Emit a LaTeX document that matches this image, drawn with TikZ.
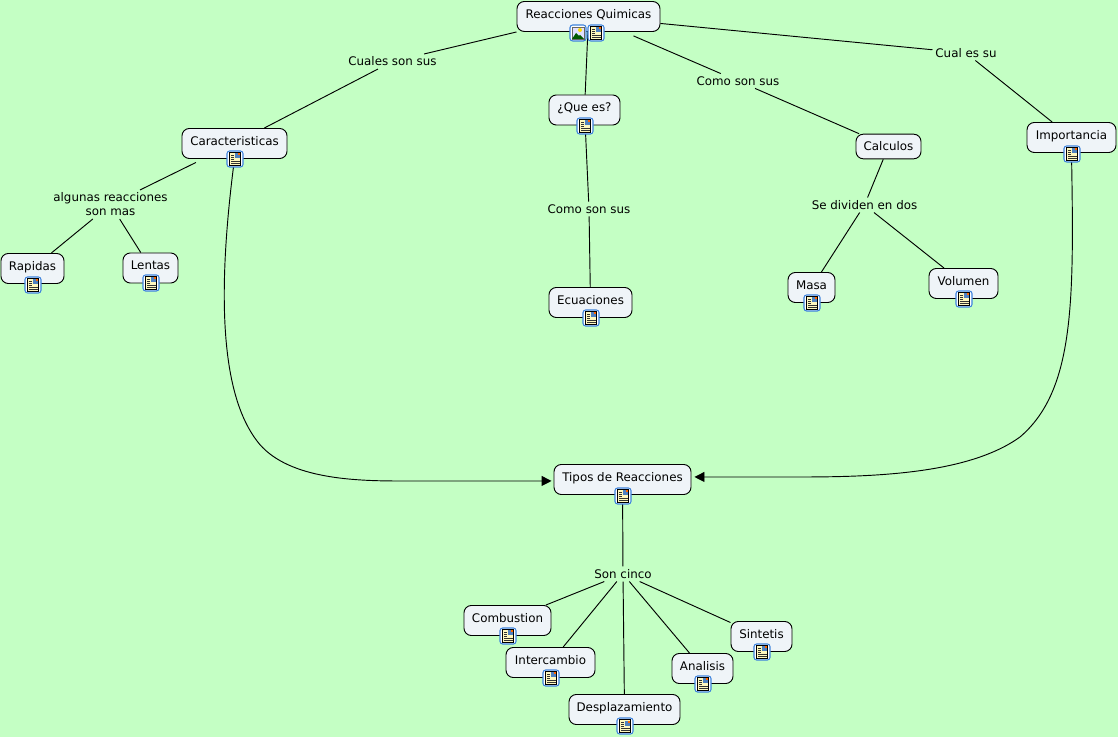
\documentclass[tikz,border=0pt]{standalone}
\usepackage{fontspec}
\setmainfont{DejaVu Sans}
\usetikzlibrary{arrows.meta}
\definecolor{mapbg}{RGB}{196,255,196}
\definecolor{boxfill}{RGB}{239,244,248}
\definecolor{iconblue}{RGB}{60,130,220}
\definecolor{iconpage}{RGB}{255,248,190}
\tikzset{
  concept/.style={draw=black, line width=0.7pt, rounded corners=5.5pt, fill=boxfill, font=\fontsize{8.9}{10}\selectfont, inner xsep=0pt, inner ysep=0pt, text height=12.5pt, text depth=10pt},
  link/.style={font=\fontsize{8.9}{10.5}\selectfont, inner sep=2pt, align=center},
  line/.style={draw=black, line width=0.7pt},
  curved/.style={line, -{Triangle[length=7.5pt, width=7.5pt]}},
  docicon/.pic={
    \draw[iconblue, fill=white, line width=0.8pt, rounded corners=2pt] (-8,-8) rectangle (8,8);
    \draw[black, fill=iconpage, line width=0.6pt] (-5.5,-6.5) rectangle (5.5,6.5);
    \fill[iconblue!70!gray] (0,-5.5) rectangle (4.5,-0.5);
    \fill[orange!80!red] (2.5,-5.5) rectangle (4.5,-3.5);
    \foreach \yy in {-4,-2,0} \draw[black!80, line width=0.4pt] (-4,\yy) -- (-1,\yy);
    \foreach \yy in {2,4} \draw[black!80, line width=0.4pt] (-4,\yy) -- (4.5,\yy);
  },
  imgicon/.pic={
    \draw[iconblue, fill=white, line width=0.8pt, rounded corners=2pt] (-8,-8) rectangle (8,8);
    \draw[black!60, fill=blue!12, line width=0.5pt] (-6,-6) rectangle (6,6);
    \fill[yellow!80!orange] (2,-3) circle (2);
    \fill[green!35!black] (-6,6) -- (-2,0) -- (1,3) -- (2,2) -- (6,6) -- cycle;
  }
}
\begin{document}
\begin{tikzpicture}[x=0.75pt, y=-0.75pt]
\useasboundingbox[fill=mapbg] (0,0) rectangle (1118,737);

\node[concept, minimum width=107.25pt] (reacciones) at (588.5,16.5) {Reacciones Quimicas};
\node[concept, minimum width=53.25pt] (quees) at (584.5,110) {¿Que es?};
\node[concept, minimum width=78.75pt] (caract) at (234.5,143.5) {Caracteristicas};
\node[concept, minimum width=48.75pt, text depth=6.5pt, text height=12pt] (calculos) at (888.5,146.5) {Calculos};
\node[concept, minimum width=66.75pt] (importancia) at (1071.5,137.5) {Importancia};
\node[concept, minimum width=47.25pt] (rapidas) at (32.5,268.5) {Rapidas};
\node[concept, minimum width=41.25pt] (lentas) at (150.5,268) {Lentas};
\node[concept, minimum width=62.25pt] (ecuaciones) at (590.5,302.5) {Ecuaciones};
\node[concept, minimum width=35.25pt] (masa) at (811.5,287.5) {Masa};
\node[concept, minimum width=51.75pt] (volumen) at (963.5,283.5) {Volumen};
\node[concept, minimum width=102.75pt] (tipos) at (622.5,479.5) {Tipos de Reacciones};
\node[concept, minimum width=65.25pt] (combustion) at (507.5,620.5) {Combustion};
\node[concept, minimum width=66.75pt] (intercambio) at (550.5,662.5) {Intercambio};
\node[concept, minimum width=83.25pt] (desplaz) at (624.5,709.5) {Desplazamiento};
\node[concept, minimum width=45.75pt] (analisis) at (702.5,668.5) {Analisis};
\node[concept, minimum width=45.75pt] (sintetis) at (761.5,636.5) {Sintetis};

\node[link] (cuales) at (392.5,61.5) {Cuales son sus};
\node[link] (comoa) at (738,81) {Como son sus};
\node[link] (cual) at (966,53) {Cual es su};
\node[link] (comob) at (589,209) {Como son sus};
\node[link] (dividen) at (864.5,205) {Se dividen en dos};
\node[link] (algunas) at (110.5,204.5) {algunas reacciones\\son mas};
\node[link] (cinco) at (623,574) {Son cinco};

\draw[line] (reacciones.south west) -- (cuales);
\draw[line] (cuales) -- (caract);
\draw[line] (reacciones) -- (quees);
\draw[line, shorten <=7.5pt] (reacciones) -- (comoa);
\draw[line] (comoa) -- (calculos);
\draw[line] (reacciones) -- (cual);
\draw[line] (cual) -- (importancia);
\draw[line] (quees) -- (comob);
\draw[line] (comob) -- (ecuaciones);
\draw[line] (calculos) -- (dividen);
\draw[line] (dividen) -- (masa);
\draw[line] (dividen) -- (volumen);
\draw[line, shorten <=6pt] (caract) -- (algunas);
\draw[line] (algunas) -- (rapidas);
\draw[line] (algunas) -- (lentas);
\draw[line] (tipos) -- (cinco);
\draw[line] (cinco) -- (combustion);
\draw[line] (cinco) -- (intercambio);
\draw[line] (cinco) -- (desplaz);
\draw[line] (cinco) -- (analisis);
\draw[line] (cinco) -- (sintetis);

\draw[curved, shorten >=1.5pt] (caract.south) .. controls (216,300) and (222,395) .. (257,441) .. controls (285,478) and (350,481) .. (400,481) -- ([yshift=-1.1pt]tipos.west);
\draw[curved, shorten >=2.25pt] (importancia.south) .. controls (1074,300) and (1075,390) .. (1020,437) .. controls (970,473) and (880,477) .. (800,477) -- ([yshift=1.9pt]tipos.east);

\pic at (578,33) {imgicon};
\foreach \x/\y in {596/33, 585/126, 235/159, 33/285, 151/283, 591/318, 812/303, 964/299, 1072/154, 623/496, 508/636, 551/678, 625/726, 703/684, 762/652}
  \pic at (\x,\y) {docicon};
\end{tikzpicture}
\end{document}
